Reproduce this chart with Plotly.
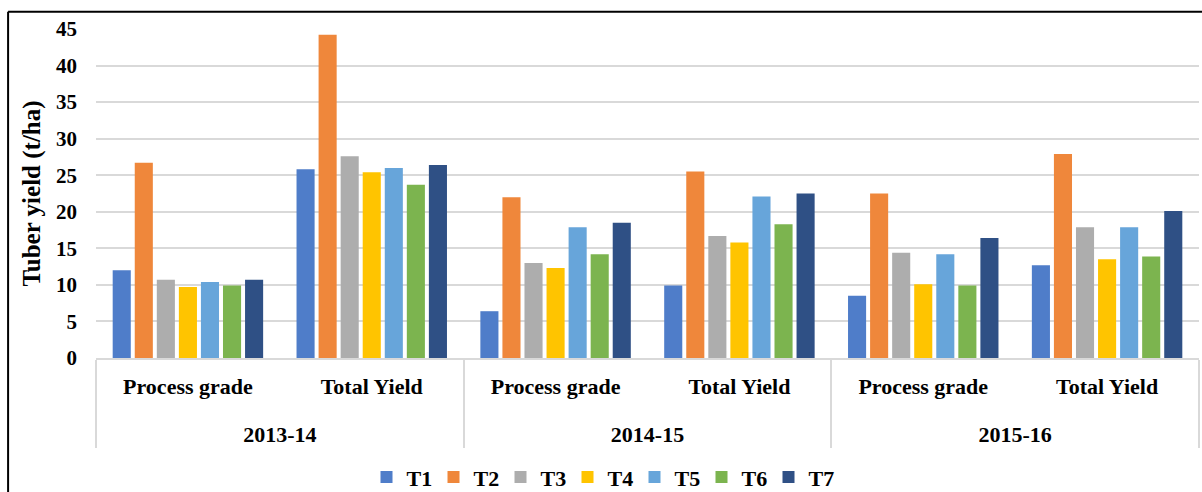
import plotly.graph_objects as go

years = ["2013-14", "2013-14", "2014-15", "2014-15", "2015-16", "2015-16"]
measures = ["Process grade", "Total Yield"] * 3
treatments = ["T1", "T2", "T3", "T4", "T5", "T6", "T7"]

T1 = [12.0, 25.8, 6.4, 9.9, 8.5, 12.7]
T2 = [26.7, 44.2, 22.0, 25.5, 22.5, 27.9]
T3 = [10.7, 27.6, 13.0, 16.7, 14.4, 17.9]
T4 = [9.7, 25.4, 12.3, 15.8, 10.1, 13.5]
T5 = [10.4, 26.0, 17.9, 22.1, 14.2, 17.9]
T6 = [9.9, 23.7, 14.2, 18.3, 9.9, 13.9]
T7 = [10.7, 26.4, 18.5, 22.5, 16.4, 20.1]
series = [T1, T2, T3, T4, T5, T6, T7]

colors = ["#4F7DC9", "#EF873B", "#ADADAD", "#FFC400", "#67A5DA", "#7CB44F", "#2F5085"]
y_ticks = [0, 5, 10, 15, 20, 25, 30, 35, 40, 45]

FONT = "Liberation Serif"

# level-1 labels get an empty second line to open space above the year row
measure_labels = [m + "<br> " for m in measures]

fig = go.Figure()
for name, vals, c in zip(treatments, series, colors):
    fig.add_trace(go.Bar(
        x=[years, measure_labels], y=vals, name=name,
        marker=dict(color=c, line=dict(width=0)),
    ))

fig.update_layout(
    width=1202, height=492,
    barmode="group", bargap=0.16, bargroupgap=0.18,
    plot_bgcolor="white", paper_bgcolor="white",
    margin=dict(l=96, r=3, t=29, b=134),
    font=dict(family=FONT, color="#000000"),
    legend=dict(
        orientation="h", xref="container", x=0.5, xanchor="center",
        yref="container", y=0.03, yanchor="middle",
        font=dict(family=FONT, size=22, color="#000000", weight="bold"),
        itemwidth=30, tracegroupgap=0, itemclick=False,
        entrywidth=22, entrywidthmode="pixels",
    ),
    xaxis=dict(
        type="multicategory",
        showline=True, linecolor="#D9D9D9", linewidth=2,
        showdividers=True, dividercolor="#D9D9D9", dividerwidth=2,
        tickfont=dict(family=FONT, size=22, color="#000000", weight="bold"),
        ticks="", ticklabelstandoff=8,
    ),
    yaxis=dict(
        range=[0, 45], tickvals=y_ticks,
        showgrid=True, gridcolor="#D9D9D9", gridwidth=2,
        zeroline=False, showline=False,
        tickfont=dict(family=FONT, size=21, color="#000000", weight="bold"),
        ticklabelstandoff=18,
        title=dict(text="Tuber yield (t/ha)",
                   font=dict(family=FONT, size=25, color="#000000", weight="bold"),
                   standoff=8),
    ),
    shapes=[
        dict(type="line", xref="paper", yref="paper", x0=-0.0797, x1=1.01, y0=1.0525, y1=1.0525,
             line=dict(color="#000000", width=2)),
        dict(type="line", xref="paper", yref="paper", x0=-0.0797, x1=-0.0797, y0=1.0525, y1=-0.5,
             line=dict(color="#000000", width=2)),
    ],
)

fig.write_html("out.html")
